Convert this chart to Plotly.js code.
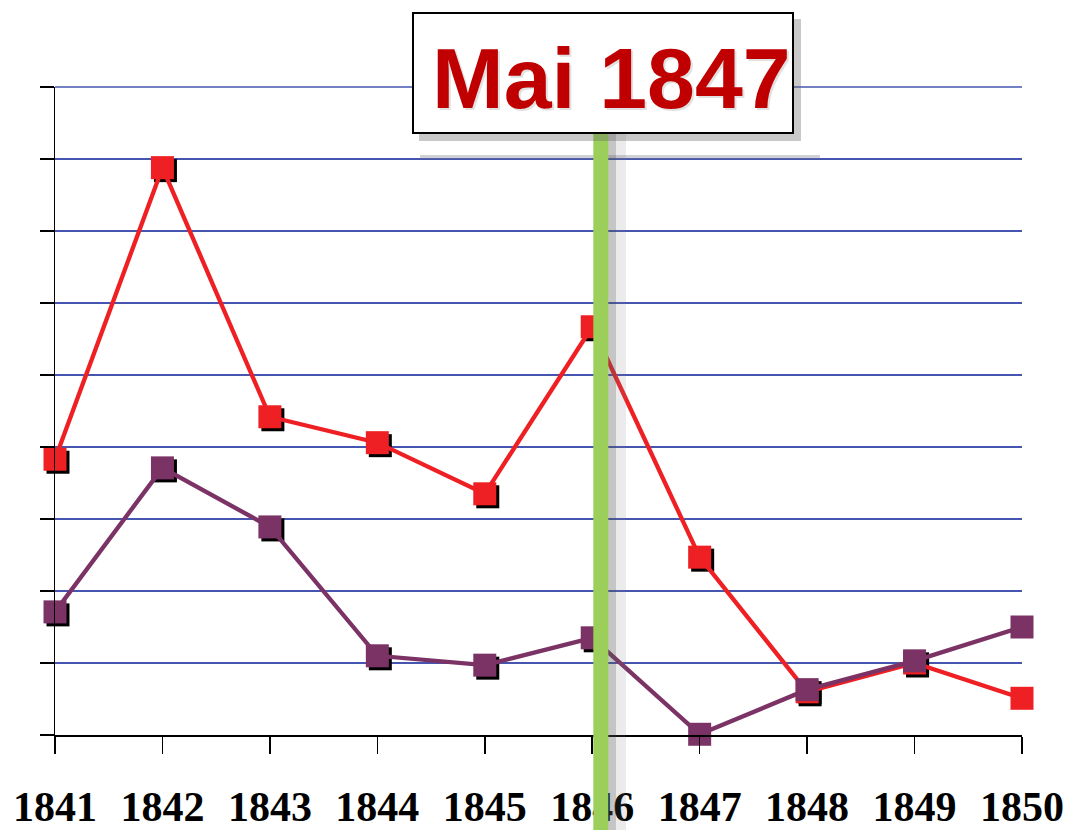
<!DOCTYPE html>
<html>
<head>
<meta charset="utf-8">
<script src="https://cdn.plot.ly/plotly-3.0.1.min.js"></script>
<style>html,body{margin:0;padding:0;background:#fff;}#chart{width:1068px;height:830px;}</style>
</head>
<body>
<div id="chart"></div>
<script>
// ---- data ----
const years = [1841, 1842, 1843, 1844, 1845, 1846, 1847, 1848, 1849, 1850];
const tickLabels = ['1841', '1842', '1843', '1844', '1845', '1846', '1847', '1848', '1849', '1850'];
const redSeries = [3.83, 7.88, 4.42, 4.06, 3.35, 5.67, 2.47, 0.60, 1.00, 0.51];
const purpleSeries = [1.71, 3.71, 2.89, 1.10, 0.97, 1.35, 0.01, 0.63, 1.03, 1.50];
const markerYear = 1846.08;          // position of the "Mai 1847" marker line
const labelText = 'Mai 1847';

// ---- layout constants ----
const W = 1068, H = 830;
const M = {l: 55, r: 46, t: 87, b: 95};
const plotW = W - M.l - M.r, plotH = H - M.t - M.b;
const xRange = [1841, 1850], yRange = [0, 9];
const shadowPx = 3;
const dx = shadowPx * (xRange[1] - xRange[0]) / plotW;
const dy = shadowPx * (yRange[1] - yRange[0]) / plotH;
const px2x = p => (p - M.l) / plotW;
const px2y = p => (H - M.b - p) / plotH;

const RED = '#ee2024', PURPLE = '#7b3365', GRID = '#4656b0';

const base = {type: 'scatter', cliponaxis: false, hoverinfo: 'skip', showlegend: false};
const traces = [
  Object.assign({}, base, {x: years, y: redSeries, xaxis: 'x2', yaxis: 'y2', mode: 'markers',
    marker: {symbol: 'square', size: 23, color: '#000'}}),
  Object.assign({}, base, {x: years, y: purpleSeries, xaxis: 'x2', yaxis: 'y2', mode: 'markers',
    marker: {symbol: 'square', size: 23, color: '#000'}}),
  Object.assign({}, base, {x: years, y: redSeries, xaxis: 'x3', yaxis: 'y3', mode: 'lines+markers',
    line: {color: RED, width: 4.3}, marker: {symbol: 'square', size: 23, color: RED}}),
  Object.assign({}, base, {x: years, y: purpleSeries, xaxis: 'x3', yaxis: 'y3', mode: 'lines+markers',
    line: {color: PURPLE, width: 4.3}, marker: {symbol: 'square', size: 23, color: PURPLE}})
];

const hiddenX = {visible: false, showgrid: false, zeroline: false, fixedrange: true};
const layout = {
  width: W, height: H,
  margin: M,
  paper_bgcolor: '#fff', plot_bgcolor: '#fff',
  showlegend: false,
  xaxis: {
    type: 'linear', range: xRange, tickmode: 'array', tickvals: years, ticktext: tickLabels,
    showgrid: false, zeroline: false, showline: true, linecolor: '#000', linewidth: 1.5,
    ticks: 'outside', ticklen: 17, tickwidth: 1.5, tickcolor: '#000',
    tickfont: {family: '"Liberation Serif", "Times New Roman", serif', size: 42, color: '#000', weight: 'bold'},
    ticklabelstandoff: 17
  },
  yaxis: {
    range: yRange, dtick: 1, tick0: 0, showticklabels: false,
    showgrid: true, gridcolor: GRID, gridwidth: 1.5, zeroline: false,
    showline: true, linecolor: '#000', linewidth: 1.5,
    ticks: 'outside', ticklen: 14, tickwidth: 1.5, tickcolor: '#000'
  },
  xaxis2: Object.assign({}, hiddenX, {overlaying: 'x', range: [xRange[0] - dx, xRange[1] - dx]}),
  yaxis2: Object.assign({}, hiddenX, {overlaying: 'y', range: [yRange[0] + dy, yRange[1] + dy]}),
  xaxis3: Object.assign({}, hiddenX, {overlaying: 'x', range: xRange}),
  yaxis3: Object.assign({}, hiddenX, {overlaying: 'y', range: yRange}),
  shapes: [
    // top grid line (Plotly skips the grid line on the plot edge)
    {type: 'line', xref: 'paper', yref: 'paper', x0: 0, x1: 1, y0: 1, y1: 1,
     line: {color: GRID, width: 1.5}, layer: 'below'},
    // faint grey streak near the second grid line (shadow of the label box)
    {type: 'line', xref: 'paper', yref: 'paper', x0: px2x(420), x1: px2x(820), y0: px2y(157), y1: px2y(157),
     line: {color: 'rgba(120,120,140,0.35)', width: 4}, layer: 'above'},
    // shadow of the green marker line
    {type: 'rect', xref: 'paper', yref: 'paper', x0: px2x(608), x1: px2x(616), y0: px2y(830), y1: px2y(133),
     fillcolor: 'rgba(90,90,90,0.35)', line: {width: 0}, layer: 'above'},
    {type: 'rect', xref: 'paper', yref: 'paper', x0: px2x(616), x1: px2x(626), y0: px2y(830), y1: px2y(133),
     fillcolor: 'rgba(120,120,120,0.15)', line: {width: 0}, layer: 'above'},
    // green marker line
    {type: 'line', xref: 'x', yref: 'paper', x0: markerYear, x1: markerYear, y0: px2y(835), y1: px2y(120),
     line: {color: '#9ccf5a', width: 15}, layer: 'above'},
    // box shadow
    {type: 'rect', xref: 'paper', yref: 'paper', x0: px2x(419), x1: px2x(801), y0: px2y(141), y1: px2y(19),
     fillcolor: 'rgba(100,100,100,0.35)', line: {width: 0}, layer: 'above'},
    // label box
    {type: 'rect', xref: 'paper', yref: 'paper', x0: px2x(413), x1: px2x(793), y0: px2y(133), y1: px2y(13),
     fillcolor: '#fff', line: {color: '#000', width: 2}, layer: 'above'}
  ],
  annotations: [
    {xref: 'paper', yref: 'paper', x: px2x(611), y: px2y(78), xanchor: 'center', yanchor: 'middle',
     text: labelText, showarrow: false, xshift: 2, yshift: -2,
     font: {family: '"Liberation Sans", Arial, sans-serif', size: 86, color: 'rgba(170,170,170,0.35)', weight: 'bold'}},
    {xref: 'paper', yref: 'paper', x: px2x(611), y: px2y(78), xanchor: 'center', yanchor: 'middle',
     text: labelText, showarrow: false,
     font: {family: '"Liberation Sans", Arial, sans-serif', size: 86, color: '#c00000', weight: 'bold'}}
  ]
};

Plotly.newPlot('chart', traces, layout, {displayModeBar: false, staticPlot: true});
</script>
</body>
</html>
